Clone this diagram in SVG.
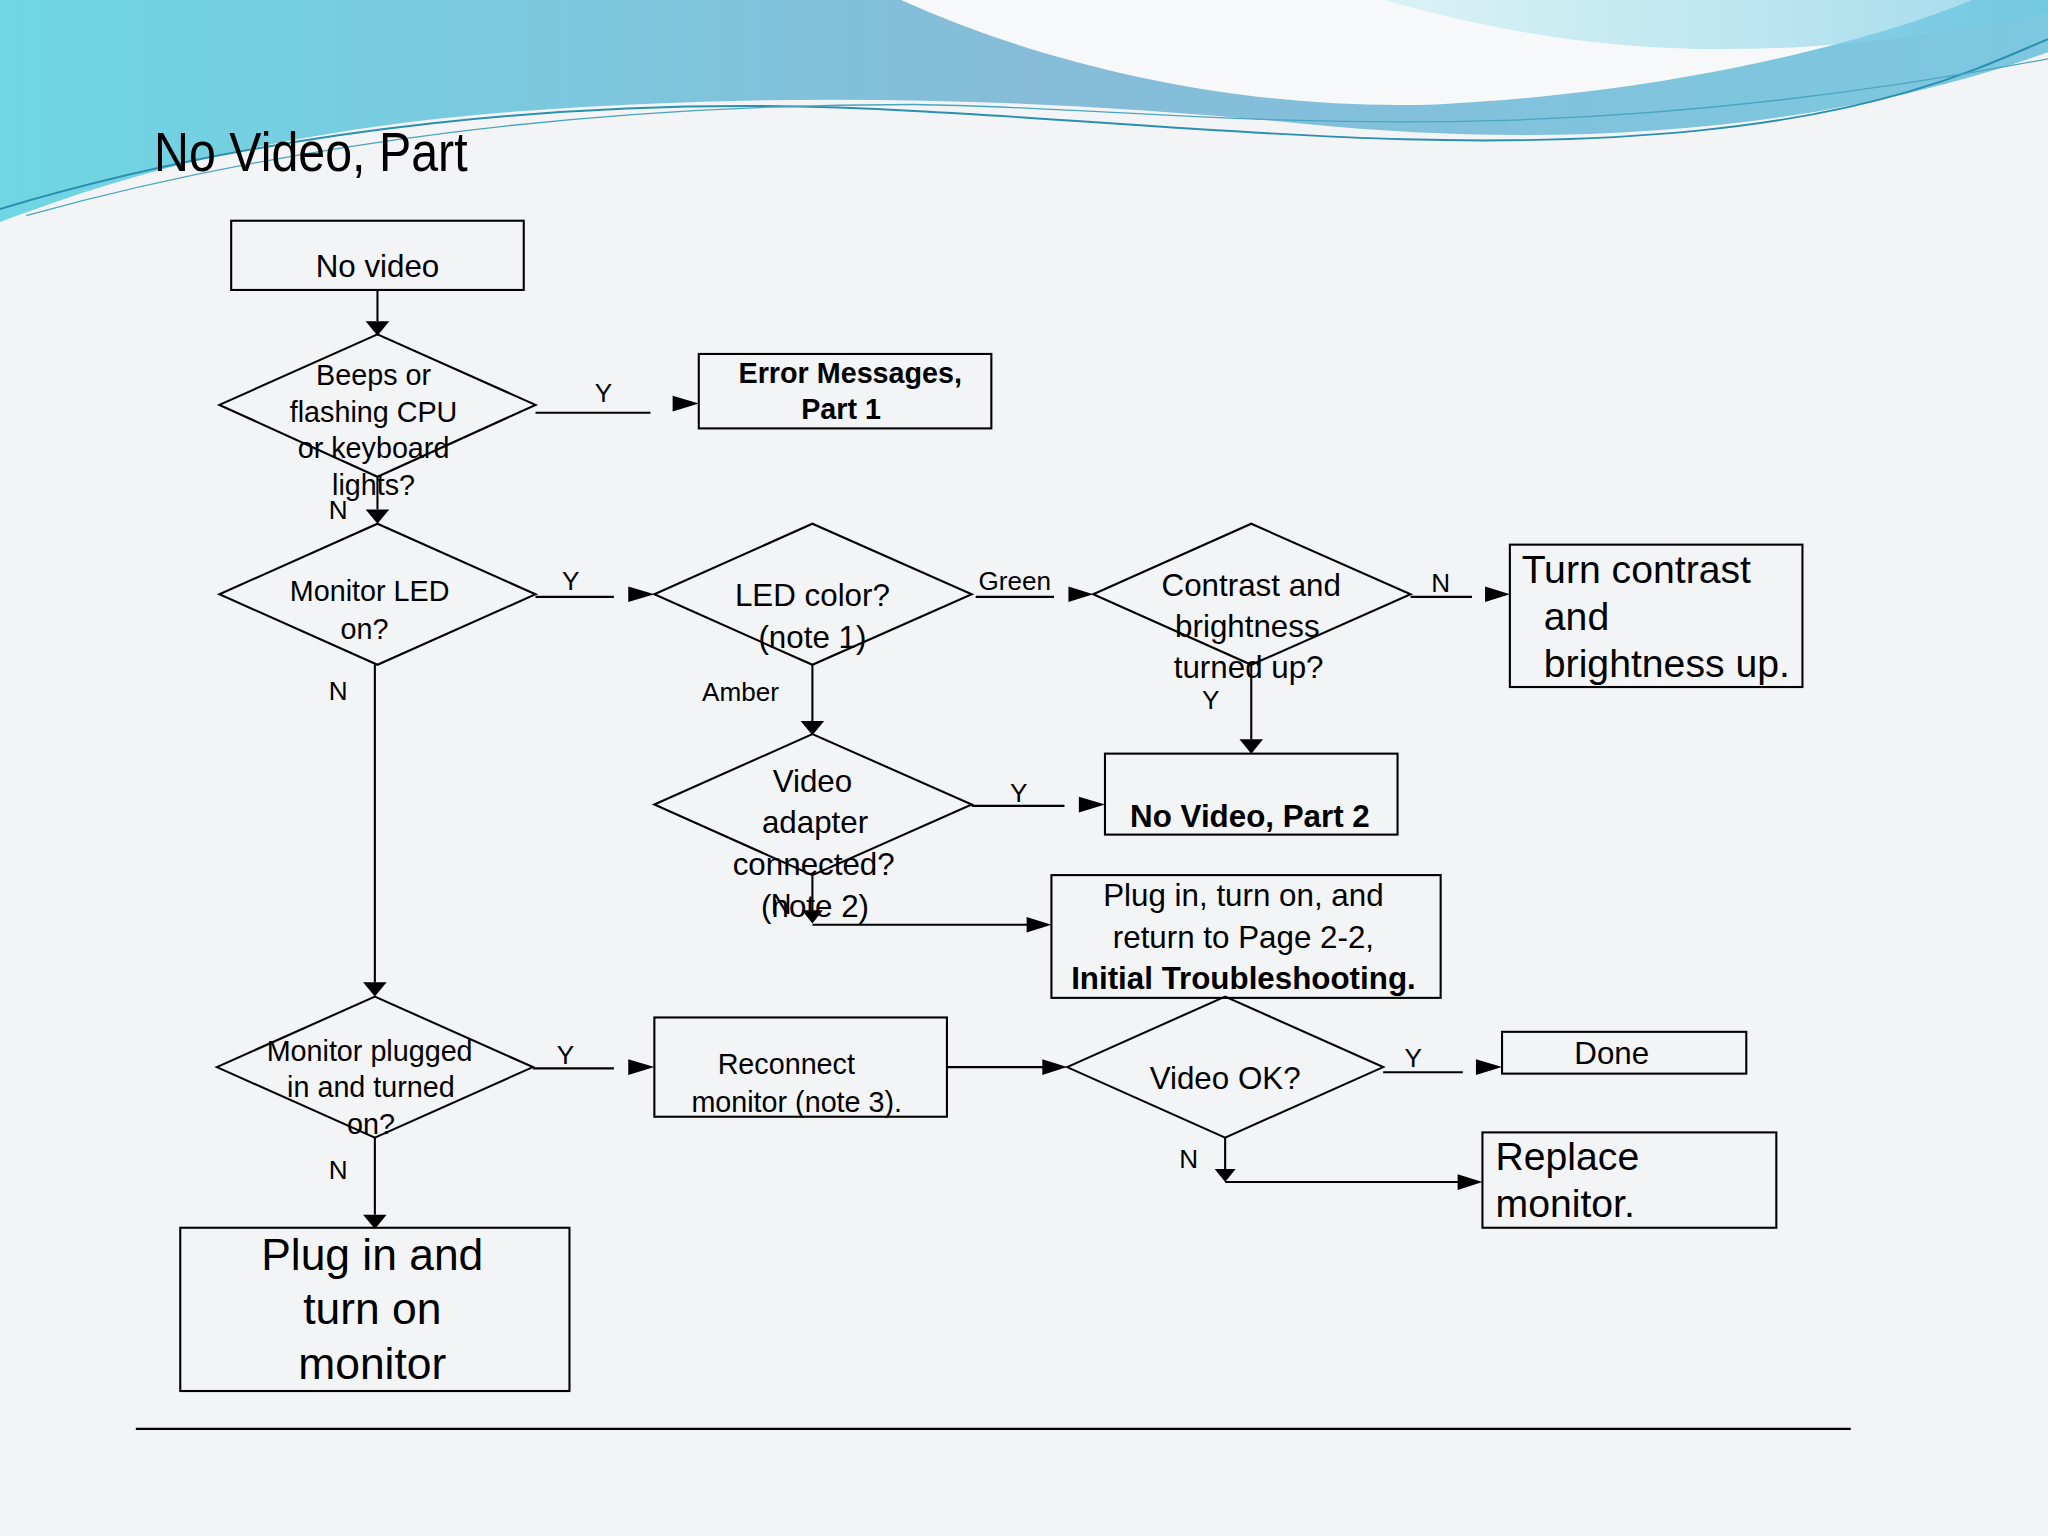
<svg xmlns="http://www.w3.org/2000/svg" width="2048" height="1536" viewBox="0 0 2048 1536">
<defs>
<linearGradient id="bg" x1="0" y1="0" x2="1" y2="0"><stop offset="0" stop-color="#6fd6e4"/><stop offset="0.5" stop-color="#86bcd8"/><stop offset="1" stop-color="#7cc8e0"/></linearGradient>
<linearGradient id="bg2" x1="0" y1="0" x2="1" y2="0"><stop offset="0" stop-color="#c8eef2"/><stop offset="1" stop-color="#6cc8e4"/></linearGradient>
</defs>
<style>
.s{fill:none;stroke:#000;stroke-width:1.6}
.b{fill:none;stroke:#000;stroke-width:1.6}
.t{font-family:"Liberation Sans",Arial,sans-serif;fill:#000}
.c{text-anchor:middle}
.h{fill:#000}
</style>
<rect width="2048" height="1536" fill="#f3f4f6"/>
<g transform="scale(1.30612)">
<g id="background">
<path d="M0,0 H1568 V40 C1400,100 1200,115 1000,95 C800,75 600,70 400,85 C200,100 80,140 0,170 Z" fill="url(#bg)"/>
<path d="M690,0 C800,50 950,85 1100,80 C1300,70 1450,25 1510,0 Z" fill="#f6f8f9"/>
<path d="M1060,0 C1200,40 1350,55 1568,10 V0 Z" fill="url(#bg2)" opacity="0.6"/>
<path d="M0,160 C200,100 450,70 700,85 C900,95 1100,120 1300,100 C1450,85 1520,50 1568,30" fill="none" stroke="#2a8fb0" stroke-width="1.5"/>
<path d="M20,165 C220,110 450,80 700,80 C900,82 1150,125 1568,45" fill="none" stroke="#4aa6c0" stroke-width="1"/>
<text class="t" x="118" y="131" font-size="42" textLength="240" lengthAdjust="spacingAndGlyphs">No Video, Part</text>
<line x1="104" y1="1094" x2="1417" y2="1094" stroke="#000" stroke-width="1.6"/>
</g>
<g id="connectors">
<line class="s" x1="289" y1="222" x2="289" y2="246"/><path class="h" d="M280,246 H298 L289,257 Z"/>
<line class="s" x1="410" y1="316" x2="498" y2="316"/><path class="h" d="M515,303 L535,309 L515,315 Z"/>
<text class="t c" x="462" y="308" font-size="20">Y</text>
<line class="s" x1="289" y1="365" x2="289" y2="390"/><path class="h" d="M280,390 H298 L289,401 Z"/>
<text class="t c" x="259" y="397" font-size="20">N</text>
<line class="s" x1="410" y1="457" x2="470" y2="457"/><path class="h" d="M481,449 L501,455 L481,461 Z"/>
<text class="t c" x="437" y="452" font-size="20">Y</text>
<line class="s" x1="747" y1="457" x2="807" y2="457"/><path class="h" d="M818,449 L837,455 L818,461 Z"/>
<text class="t c" x="777" y="452" font-size="20">Green</text>
<line class="s" x1="1080" y1="457" x2="1127" y2="457"/><path class="h" d="M1137,449 L1156,455 L1137,461 Z"/>
<text class="t c" x="1103" y="453" font-size="20">N</text>
<line class="s" x1="958" y1="509" x2="958" y2="566"/><path class="h" d="M949,566 H967 L958,577 Z"/>
<text class="t c" x="927" y="543" font-size="20">Y</text>
<line class="s" x1="622" y1="509" x2="622" y2="552"/><path class="h" d="M613,552 H631 L622,563 Z"/>
<text class="t c" x="567" y="537" font-size="20">Amber</text>
<line class="s" x1="744" y1="617" x2="815" y2="617"/><path class="h" d="M826,610 L846,616 L826,622 Z"/>
<text class="t c" x="780" y="614" font-size="20">Y</text>
<line class="s" x1="622" y1="670" x2="622" y2="698"/><path class="h" d="M614,697 H630 L622,707 Z"/>
<line class="s" x1="622" y1="708" x2="790" y2="708"/><path class="h" d="M786,702 L805,708 L786,714 Z"/>
<text class="t c" x="598" y="700" font-size="22">N</text>
<line class="s" x1="287" y1="509" x2="287" y2="752"/><path class="h" d="M278,752 H296 L287,763 Z"/>
<text class="t c" x="259" y="536" font-size="20">N</text>
<line class="s" x1="408" y1="818" x2="470" y2="818"/><path class="h" d="M481,811 L501,817 L481,823 Z"/>
<text class="t c" x="433" y="815" font-size="20">Y</text>
<line class="s" x1="725" y1="817" x2="800" y2="817"/><path class="h" d="M798,811 L817,817 L798,823 Z"/>
<line class="s" x1="1059" y1="821" x2="1120" y2="821"/><path class="h" d="M1130,811 L1150,817 L1130,823 Z"/>
<text class="t c" x="1082" y="817" font-size="20">Y</text>
<line class="s" x1="938" y1="871" x2="938" y2="896"/><path class="h" d="M930,895 H946 L938,905 Z"/>
<line class="s" x1="938" y1="905" x2="1118" y2="905"/><path class="h" d="M1116,899 L1135,905 L1116,911 Z"/>
<text class="t c" x="910" y="894" font-size="20">N</text>
<line class="s" x1="287" y1="871" x2="287" y2="930"/><path class="h" d="M278,930 H296 L287,941 Z"/>
<text class="t c" x="259" y="903" font-size="20">N</text>
</g>
<g id="n1"><rect class="b" x="177" y="169" width="224" height="53"/><text class="t c" x="289" y="212" font-size="24">No video</text></g>
<g id="d1"><path class="b" d="M168,310 L289,256 L410,310 L289,365 Z"/>
<text class="t c" font-size="22"><tspan x="286" y="295">Beeps or</tspan><tspan x="286" y="323">flashing CPU</tspan><tspan x="286" y="351">or keyboard</tspan><tspan x="286" y="379">lights?</tspan></text></g>
<g id="n2"><rect class="b" x="535" y="271" width="224" height="57"/><text class="t c" font-size="22" font-weight="bold"><tspan x="651" y="293">Error Messages,</tspan><tspan x="644" y="321">Part 1</tspan></text></g>
<g id="d2"><path class="b" d="M168,455 L289,401 L410,455 L289,509 Z"/>
<text class="t c" font-size="22"><tspan x="283" y="460">Monitor LED</tspan><tspan x="279" y="489">on?</tspan></text></g>
<g id="d3"><path class="b" d="M501,455 L622,401 L744,455 L622,509 Z"/>
<text class="t c" font-size="24"><tspan x="622" y="464">LED color?</tspan><tspan x="622" y="496">(note 1)</tspan></text></g>
<g id="d4"><path class="b" d="M837,455 L958,401 L1080,455 L958,509 Z"/>
<text class="t c" font-size="24"><tspan x="958" y="456">Contrast and</tspan><tspan x="955" y="488">brightness</tspan><tspan x="956" y="519">turned up?</tspan></text></g>
<g id="n3"><rect class="b" x="1156" y="417" width="224" height="109"/>
<text class="t" font-size="30"><tspan x="1165" y="446">Turn contrast</tspan><tspan x="1182" y="482">and</tspan><tspan x="1182" y="518">brightness up.</tspan></text></g>
<g id="d5"><path class="b" d="M501,616 L622,562 L744,616 L622,670 Z"/>
<text class="t c" font-size="24"><tspan x="622" y="606">Video</tspan><tspan x="624" y="638">adapter</tspan><tspan x="623" y="670">connected?</tspan><tspan x="624" y="702">(note 2)</tspan></text></g>
<g id="n4"><rect class="b" x="846" y="577" width="224" height="62"/><text class="t c" x="957" y="633" font-size="24" font-weight="bold">No Video, Part 2</text></g>
<g id="n5"><rect class="b" x="805" y="670" width="298" height="94"/>
<text class="t c" font-size="24"><tspan x="952" y="694">Plug in, turn on, and</tspan><tspan x="952" y="726">return to Page 2-2,</tspan><tspan x="952" y="757" font-weight="bold">Initial Troubleshooting.</tspan></text></g>
<g id="d6"><path class="b" d="M166,817 L287,763 L408,817 L287,871 Z"/>
<text class="t c" font-size="22"><tspan x="283" y="812">Monitor plugged</tspan><tspan x="284" y="840">in and turned</tspan><tspan x="284" y="868">on?</tspan></text></g>
<g id="n6"><rect class="b" x="501" y="779" width="224" height="76"/>
<text class="t c" font-size="22"><tspan x="602" y="822">Reconnect</tspan><tspan x="610" y="851">monitor (note 3).</tspan></text></g>
<g id="d7"><path class="b" d="M817,817 L938,763 L1059,817 L938,871 Z"/><text class="t c" x="938" y="834" font-size="24">Video OK?</text></g>
<g id="n7"><rect class="b" x="1150" y="790" width="187" height="32"/><text class="t c" x="1234" y="815" font-size="24">Done</text></g>
<g id="n8"><rect class="b" x="1135" y="867" width="225" height="73"/>
<text class="t" font-size="30"><tspan x="1145" y="896">Replace</tspan><tspan x="1145" y="932">monitor.</tspan></text></g>
<g id="n9"><rect class="b" x="138" y="940" width="298" height="125"/>
<text class="t c" font-size="34"><tspan x="285" y="972">Plug in and</tspan><tspan x="285" y="1014">turn on</tspan><tspan x="285" y="1056">monitor</tspan></text></g>
</g>
</svg>
